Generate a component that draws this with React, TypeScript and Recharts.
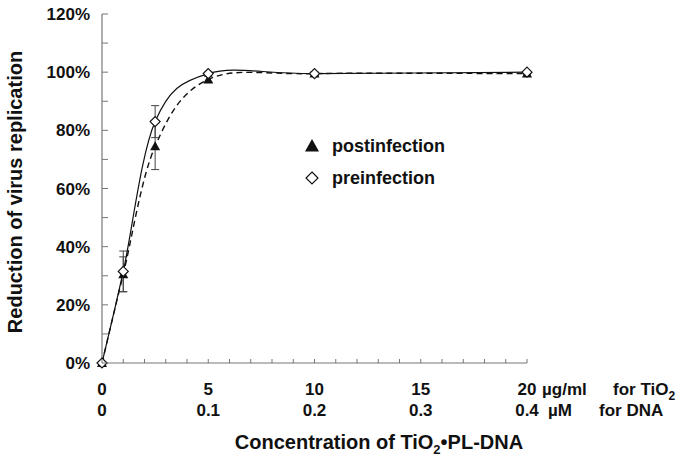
import { LineChart, Line, XAxis, YAxis, ErrorBar, Legend } from "recharts"

// concentration (µg/ml TiO2) and % reduction
const CONC = [0, 1, 2.5, 5, 10, 20]
const POST = [0, 30.5, 74.5, 97.5, 99.5, 99.5]
const POST_ERR = [0, 6, 8, 1, 0.5, 0.5]
const PRE = [0, 31.5, 83, 99.5, 99.5, 100]
const PRE_ERR = [0, 7, 5.5, 0.5, 0.5, 0.5]

const X_TICKS = [0, 1, 2, 3, 4, 5, 6, 7, 8, 9, 10, 11, 12, 13, 14, 15, 16, 17, 18, 19, 20]
const X_LABELS = [0, 5, 10, 15, 20]
const DNA_LABELS = ["0", "0.1", "0.2", "0.3", "0.4"]
const Y_TICKS = [0, 10, 20, 30, 40, 50, 60, 70, 80, 90, 100, 110, 120]

const data = CONC.map((c, i) => ({
  conc: c,
  post: POST[i],
  postErr: POST_ERR[i],
  pre: PRE[i],
  preErr: PRE_ERR[i],
}))

const FONT = '"Liberation Sans", Arial, Helvetica, sans-serif'
const AXIS = "#777"
const INK = "#111"

// Excel-like smoothed line (Catmull-Rom bezier)
const smoothCurve = (ctx: any) => {
  let pts: number[][] = []
  return {
    areaStart() {},
    areaEnd() {},
    lineStart() {
      pts = []
    },
    point(x: number, y: number) {
      pts.push([+x, +y])
    },
    lineEnd() {
      if (!pts.length) return
      ctx.moveTo(pts[0][0], pts[0][1])
      for (let i = 0; i < pts.length - 1; i++) {
        const p0 = pts[Math.max(i - 1, 0)]
        const p1 = pts[i]
        const p2 = pts[i + 1]
        const p3 = pts[Math.min(i + 2, pts.length - 1)]
        ctx.bezierCurveTo(
          p1[0] + (p2[0] - p0[0]) / 6,
          p1[1] + (p2[1] - p0[1]) / 6,
          p2[0] - (p3[0] - p1[0]) / 6,
          p2[1] - (p3[1] - p1[1]) / 6,
          p2[0],
          p2[1]
        )
      }
    },
  }
}

const Triangle = ({ cx, cy, s = 5 }: { cx: number; cy: number; s?: number }) => (
  <path d={`M${cx},${cy - s}L${cx + s},${cy + s * 0.8}L${cx - s},${cy + s * 0.8}Z`} fill={INK} />
)

const Diamond = ({ cx, cy, s = 5 }: { cx: number; cy: number; s?: number }) => (
  <path
    d={`M${cx},${cy - s}L${cx + s},${cy}L${cx},${cy + s}L${cx - s},${cy}Z`}
    fill="#fff"
    stroke={INK}
    strokeWidth={1.2}
  />
)

const triDot = (p: any) =>
  p.cy == null ? <g key={p.index} /> : <Triangle key={p.index} cx={p.cx} cy={p.cy} />
const diaDot = (p: any) =>
  p.cy == null ? <g key={p.index} /> : <Diamond key={p.index} cx={p.cx} cy={p.cy} />

const XTick = ({ x, y, payload }: any) => {
  const v = payload.value
  const k = X_LABELS.indexOf(v)
  return (
    <g>
      <line x1={x} y1={y} x2={x} y2={y - 4} stroke={AXIS} strokeWidth={1} />
      {k >= 0 && (
        <text x={x} y={y + 32} textAnchor="middle" fontSize={17} fontWeight="bold" fill={INK} fontFamily={FONT}>
          {v}
        </text>
      )}
      {k >= 0 && (
        <text x={x} y={y + 53} textAnchor="middle" fontSize={17} fontWeight="bold" fill={INK} fontFamily={FONT}>
          {DNA_LABELS[k]}
        </text>
      )}
      {k === X_LABELS.length - 1 && (
        <g fontSize={17} fontWeight="bold" fill={INK} fontFamily={FONT}>
          <text x={x + 15} y={y + 32}>µg/ml</text>
          <text x={x + 86} y={y + 32}>
            for TiO
            <tspan fontSize={12} dy={5}>2</tspan>
          </text>
          <text x={x + 21} y={y + 53}>µM</text>
          <text x={x + 72} y={y + 53}>for DNA</text>
        </g>
      )}
    </g>
  )
}

const YTick = ({ x, y, payload }: any) => {
  const v = payload.value
  return (
    <g>
      <line x1={x} y1={y} x2={x + 6} y2={y} stroke={AXIS} strokeWidth={1} />
      {v % 20 === 0 && (
        <text x={x - 12} y={y + 6} textAnchor="end" fontSize={17} fontWeight="bold" fill={INK} fontFamily={FONT}>
          {v}%
        </text>
      )}
    </g>
  )
}

const LegendBox = () => (
  <svg width={170} height={60} style={{ display: "block" }}>
    <g fontFamily={FONT} fontSize={18} fontWeight="bold" fill={INK}>
      <Triangle cx={12} cy={13} s={7} />
      <text x={32} y={19}>postinfection</text>
      <Diamond cx={12} cy={45} s={6} />
      <text x={32} y={51}>preinfection</text>
    </g>
  </svg>
)

export default function App() {
  return (
    <div style={{ position: "absolute", left: 0, top: 0, width: 688, height: 464, background: "#fff" }}>
      <LineChart width={688} height={464} data={data} margin={{ top: 14, right: 161, bottom: 71, left: 42 }}>
        <XAxis
          dataKey="conc"
          type="number"
          domain={[0, 20]}
          ticks={X_TICKS}
          interval={0}
          height={30}
          tickSize={0}
          tickMargin={0}
          tick={<XTick />}
          axisLine={{ stroke: AXIS, strokeWidth: 1.2 }}
          tickLine={false}
        />
        <YAxis
          type="number"
          domain={[0, 120]}
          ticks={Y_TICKS}
          interval={0}
          width={60}
          tickSize={0}
          tickMargin={0}
          tick={<YTick />}
          axisLine={{ stroke: AXIS, strokeWidth: 1.2 }}
          tickLine={false}
        />
        <Legend
          layout="vertical"
          align="center"
          verticalAlign="middle"
          wrapperStyle={{ left: 300, top: 133, width: 170 }}
          content={() => <LegendBox />}
        />
        <Line
          dataKey="post"
          type={smoothCurve as any}
          stroke={INK}
          strokeWidth={1.4}
          strokeDasharray="6 4"
          dot={triDot}
          activeDot={false}
          isAnimationActive={false}
        >
          <ErrorBar dataKey="postErr" direction="y" width={4} stroke="#444" strokeWidth={1} />
        </Line>
        <Line
          dataKey="pre"
          type={smoothCurve as any}
          stroke={INK}
          strokeWidth={1.2}
          dot={diaDot}
          activeDot={false}
          isAnimationActive={false}
        >
          <ErrorBar dataKey="preErr" direction="y" width={4} stroke="#444" strokeWidth={1} />
        </Line>
      </LineChart>
      <div
        style={{
          position: "absolute",
          left: 0,
          top: 431,
          width: 758,
          textAlign: "center",
          fontFamily: FONT,
          fontWeight: "bold",
          fontSize: 20,
          color: INK,
          whiteSpace: "nowrap",
        }}
      >
        Concentration of TiO<sub style={{ fontSize: 13 }}>2</sub>•PL-DNA
      </div>
      <div
        style={{
          position: "absolute",
          left: 15,
          top: 192,
          transform: "translate(-50%, -50%) rotate(-90deg)",
          fontFamily: FONT,
          fontWeight: "bold",
          fontSize: 20,
          color: INK,
          whiteSpace: "nowrap",
        }}
      >
        Reduction of virus replication
      </div>
    </div>
  )
}
